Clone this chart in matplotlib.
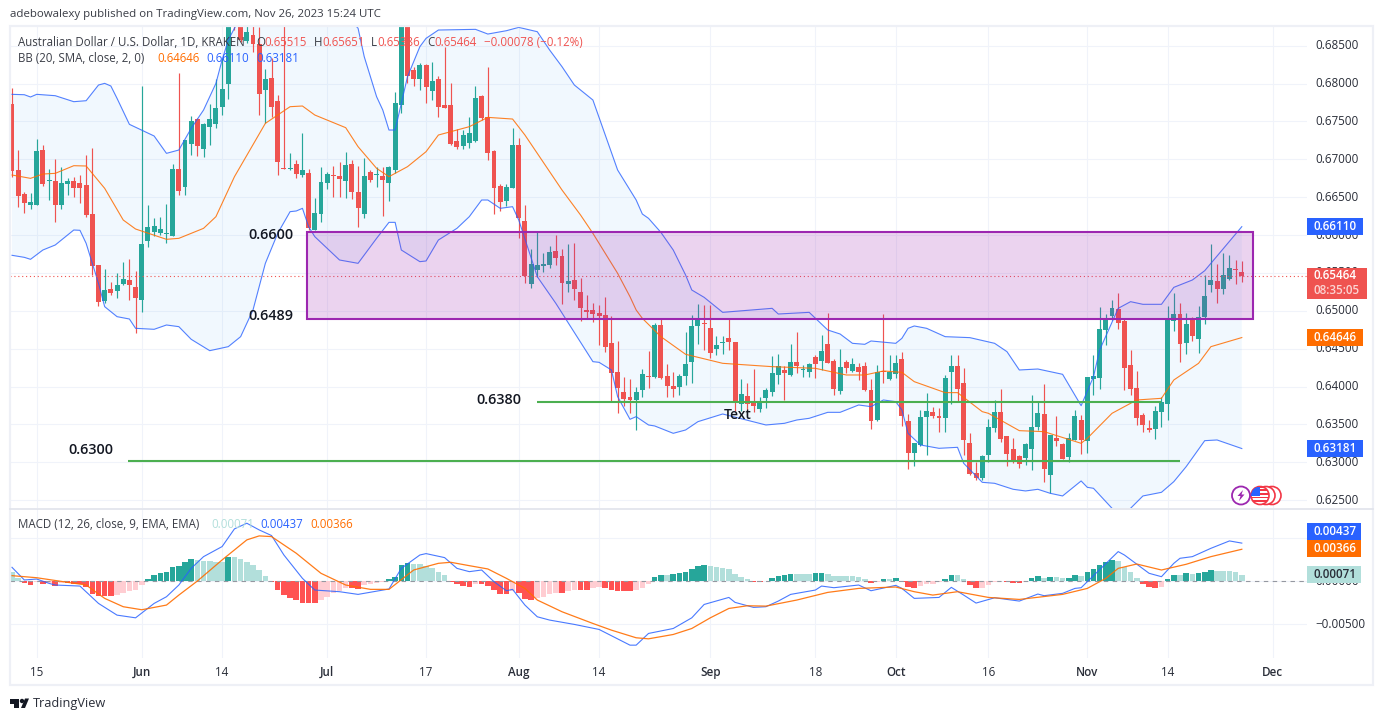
import numpy as np
import pandas as pd
import matplotlib
matplotlib.use("Agg")
import matplotlib.pyplot as plt
import matplotlib.dates as mdates
from matplotlib.patches import Rectangle, Circle, Polygon

plt.rcParams['font.family'] = ['Open Sans', 'DejaVu Sans']

start_date = "2023-05-11"
opens = [
0.67729,0.66858,0.66541,0.66392,0.66400,0.67122,0.66713,0.66708,0.66400,0.66673,
0.66708,0.66686,0.66660,0.66277,0.65604,0.65129,0.65287,0.65261,0.65353,0.65402,
0.65314,0.65142,0.65925,0.66040,0.66031,0.66013,0.65991,0.66871,0.66638,0.67206,
0.67527,0.67140,0.67430,0.67465,0.67690,0.67998,0.69150,0.68900,0.68565,0.68640,
0.68521,0.67918,0.68068,0.67769,0.66880,0.66871,0.66937,0.66788,0.66814,0.66066,
0.66277,0.66686,0.66792,0.66779,0.66713,0.66937,0.66568,0.66277,0.66832,0.66796,
0.66779,0.66686,0.66858,0.67716,0.68900,0.68182,0.68059,0.68244,0.67901,0.68059,
0.67712,0.67716,0.67241,0.67175,0.67214,0.67241,0.67835,0.67553,0.67109,0.66647,
0.66449,0.66620,0.67188,0.66185,0.65353,0.65538,0.65591,0.65604,0.65789,0.65723,
0.65353,0.65406,0.65243,0.65010,0.65010,0.64970,0.64944,0.64574,0.64192,0.63928,
0.63862,0.63822,0.63954,0.64139,0.64126,0.64812,0.64139,0.64007,0.63994,0.64139,
0.64324,0.64799,0.64838,0.64772,0.64495,0.64579,0.64640,0.64588,0.63769,0.63875,
0.63800,0.63703,0.63848,0.63928,0.64152,0.64218,0.64152,0.64324,0.64222,0.64192,
0.64390,0.64337,0.64561,0.64337,0.63941,0.64324,0.64205,0.64258,0.64271,0.63954,
0.63558,0.64205,0.64099,0.64165,0.64363,0.63545,0.63122,0.63228,0.63598,0.63664,
0.63611,0.63584,0.64192,0.64271,0.64046,0.63256,0.62858,0.62792,0.63096,0.63452,
0.63664,0.63347,0.63175,0.63083,0.63056,0.63175,0.63466,0.63637,0.62832,0.63320,
0.63241,0.63070,0.63294,0.63558,0.63281,0.64099,0.64112,0.64746,0.64931,0.65023,
0.64865,0.64284,0.63980,0.63624,0.63452,0.63439,0.63664,0.63769,0.64865,0.64957,
0.64574,0.64878,0.64627,0.64918,0.65340,0.65393,0.65287,0.65419,0.65551,0.65515]
highs = [
0.67936,0.67122,0.66572,0.66559,0.67263,0.67188,0.66871,0.67003,0.66893,0.66757,
0.66770,0.66792,0.67056,0.67144,0.65604,0.65547,0.65384,0.65494,0.65639,0.65679,
0.65525,0.67967,0.66396,0.66220,0.66242,0.66409,0.66937,0.68134,0.67254,0.67571,
0.67540,0.67483,0.67725,0.68055,0.68332,0.69050,0.69250,0.69000,0.68850,0.68800,
0.68750,0.68191,0.68332,0.67848,0.68800,0.67078,0.66990,0.67342,0.66871,0.66484,
0.66898,0.66832,0.66915,0.66959,0.67096,0.66990,0.66911,0.67012,0.66858,0.66902,
0.66898,0.66915,0.67883,0.69500,0.69000,0.68222,0.68266,0.68253,0.68279,0.68100,
0.68477,0.68002,0.67399,0.67386,0.67553,0.67967,0.67852,0.68218,0.67122,0.66673,
0.66673,0.67408,0.67280,0.66396,0.65815,0.66040,0.65758,0.65855,0.66000,0.65811,
0.65881,0.65890,0.65428,0.65208,0.65098,0.65076,0.65177,0.64931,0.64601,0.64130,
0.64099,0.63998,0.64231,0.64469,0.64843,0.64887,0.64297,0.64196,0.64165,0.64720,
0.64944,0.65089,0.65076,0.65076,0.64667,0.64667,0.64891,0.64588,0.64099,0.64051,
0.64231,0.63862,0.63980,0.64403,0.64429,0.64271,0.64561,0.64720,0.64284,0.64306,
0.64416,0.64680,0.64970,0.64363,0.64491,0.64350,0.64376,0.64306,0.64319,0.64099,
0.64284,0.64957,0.64416,0.64416,0.64456,0.63637,0.63250,0.63690,0.63914,0.63730,
0.63716,0.64152,0.64416,0.64416,0.64244,0.63386,0.62999,0.63096,0.63571,0.63822,
0.63967,0.63350,0.63320,0.63096,0.63256,0.63888,0.63800,0.64033,0.63360,0.63611,
0.63250,0.63382,0.63690,0.63624,0.64126,0.64416,0.65050,0.64957,0.65142,0.65234,
0.64891,0.64482,0.64205,0.63646,0.63558,0.63743,0.63862,0.65063,0.65234,0.65102,
0.64966,0.64913,0.65063,0.65472,0.65881,0.65617,0.65762,0.65736,0.65670,0.65651]
lows = [
0.66770,0.66374,0.66295,0.66348,0.66392,0.66647,0.66462,0.66176,0.66348,0.66528,
0.66506,0.66427,0.66242,0.65468,0.65067,0.65102,0.65208,0.65164,0.65340,0.65142,
0.64711,0.64988,0.65846,0.65987,0.66000,0.65899,0.65987,0.66528,0.66528,0.67056,
0.67047,0.67034,0.67188,0.67408,0.67584,0.67800,0.68706,0.68552,0.68539,0.68420,
0.67584,0.67483,0.67562,0.66792,0.66870,0.66858,0.66748,0.66770,0.66066,0.66060,
0.66176,0.66607,0.66506,0.66502,0.66488,0.66475,0.66110,0.66224,0.66704,0.66638,
0.66251,0.66449,0.66814,0.67615,0.68002,0.67967,0.67914,0.67742,0.67782,0.67558,
0.67676,0.67184,0.67135,0.67135,0.67148,0.67232,0.67518,0.66990,0.66277,0.66321,
0.66383,0.66616,0.65956,0.65362,0.65296,0.65441,0.65516,0.65560,0.65604,0.65089,
0.65252,0.65142,0.64869,0.64900,0.64856,0.64548,0.64460,0.63800,0.63655,0.63743,
0.63646,0.63426,0.63866,0.63976,0.64108,0.64099,0.63866,0.63866,0.63888,0.64020,
0.64051,0.64561,0.64482,0.64376,0.64416,0.64429,0.64482,0.63681,0.63677,0.63681,
0.63668,0.63668,0.63712,0.63879,0.64033,0.63822,0.64139,0.64174,0.64130,0.64126,
0.64117,0.64218,0.64306,0.63888,0.63901,0.64174,0.64196,0.64086,0.63941,0.63439,
0.63550,0.64046,0.64090,0.64108,0.63479,0.62911,0.62955,0.63220,0.63096,0.63584,
0.63400,0.63400,0.63769,0.63809,0.63096,0.62832,0.62766,0.62766,0.63008,0.63400,
0.63272,0.62955,0.62986,0.62920,0.62964,0.62898,0.63426,0.62740,0.62590,0.63215,
0.63043,0.63008,0.63290,0.63109,0.63122,0.63888,0.63967,0.64548,0.64878,0.64759,
0.63954,0.63888,0.63492,0.63400,0.63400,0.63307,0.63466,0.63558,0.64733,0.64324,
0.64429,0.64601,0.64442,0.64825,0.65248,0.65102,0.65221,0.65406,0.65353,0.65386]
closes = [
0.66845,0.66515,0.66427,0.66436,0.67109,0.66673,0.66726,0.66400,0.66686,0.66713,
0.66625,0.66625,0.66268,0.65595,0.65120,0.65274,0.65230,0.65340,0.65419,0.65340,
0.65173,0.65877,0.66101,0.66114,0.66079,0.66022,0.66871,0.66581,0.67254,0.67505,
0.67179,0.67465,0.67531,0.67676,0.67927,0.68900,0.68780,0.68574,0.68675,0.68521,
0.67861,0.68055,0.67685,0.66964,0.66876,0.66880,0.66805,0.66854,0.66088,0.66286,
0.66695,0.66805,0.66783,0.66735,0.66924,0.66568,0.66361,0.66779,0.66722,0.66805,
0.66726,0.66902,0.67738,0.68850,0.68099,0.68059,0.68244,0.67954,0.68033,0.67690,
0.67676,0.67201,0.67162,0.67320,0.67346,0.67808,0.67544,0.67082,0.66620,0.66436,
0.66634,0.67188,0.66224,0.65459,0.65617,0.65604,0.65613,0.65776,0.65696,0.65371,
0.65393,0.65287,0.65036,0.64988,0.64957,0.64931,0.64522,0.64178,0.63980,0.63835,
0.63822,0.63928,0.64165,0.64130,0.64812,0.64112,0.64007,0.63967,0.64139,0.64297,
0.64799,0.64878,0.64825,0.64442,0.64548,0.64588,0.64588,0.63782,0.63901,0.63769,
0.63743,0.63809,0.63954,0.64178,0.64271,0.64178,0.64324,0.64271,0.64231,0.64297,
0.64297,0.64469,0.64310,0.63967,0.64258,0.64244,0.64297,0.64192,0.63954,0.63545,
0.64192,0.64192,0.64192,0.64310,0.63611,0.63122,0.63256,0.63598,0.63677,0.63611,
0.63589,0.64112,0.64271,0.63967,0.63294,0.62845,0.62792,0.63083,0.63466,0.63664,
0.63307,0.63109,0.63030,0.62977,0.63241,0.63466,0.63650,0.62911,0.63360,0.63281,
0.63043,0.63320,0.63611,0.63294,0.64126,0.64139,0.64759,0.64891,0.65036,0.64838,
0.64244,0.63967,0.63584,0.63492,0.63426,0.63677,0.63800,0.64878,0.64957,0.64561,
0.64825,0.64667,0.64918,0.65195,0.65406,0.65287,0.65472,0.65564,0.65542,0.65464]

upper_days = [0,2,3,4,7,10,12,14,15,16,17,19,23,25,27,29,31,33,34,35,36,40,45,50,54,56,57,59,60,61,62,63,64,66,67,69,75,77,80,82,85,87,89,91,94,96,98,101,102,103,105,107,109,110,112,115,123,124,129,132,134,136,138,139,143,144,145,146,148,151,155,159,161,163,166,170,173,175,176,179,181,183,186,188,191,193,199]
upper_band = [0.67857,0.67852,0.67822,0.67857,0.67839,0.6776,0.67773,0.6798,0.68002,0.67967,0.67804,0.67461,0.67307,0.67078,0.67122,0.67408,0.6765,0.68002,0.6831,0.68574,0.6873,0.6925,0.695,0.693,0.689,0.6873,0.68354,0.67826,0.6765,0.67386,0.67386,0.67738,0.6809,0.68486,0.68596,0.68706,0.68715,0.68653,0.68697,0.68741,0.68684,0.68442,0.68222,0.6798,0.67782,0.6732,0.66858,0.66462,0.66277,0.6622,0.66035,0.65802,0.65472,0.65274,0.65177,0.64979,0.65032,0.64957,0.64979,0.64746,0.64693,0.6457,0.64557,0.64601,0.6457,0.64636,0.64768,0.64799,0.64768,0.64658,0.64645,0.6457,0.6446,0.64218,0.64231,0.64161,0.63747,0.6413,0.64482,0.65032,0.6512,0.65085,0.65085,0.65309,0.65406,0.65529,0.6611]
lower_days = [0,2,3,5,7,10,11,12,14,15,17,19,20,23,25,27,29,32,35,37,39,41,43,45,46,47,48,49,53,56,57,59,61,62,63,66,67,69,72,74,76,77,79,81,82,85,88,94,95,97,98,100,101,103,104,107,109,111,115,122,125,127,129,132,134,137,139,141,143,144,145,147,150,153,154,157,159,162,164,166,168,170,173,174,175,178,179,180,181,183,186,188,190,193,195,199]
lower_band = [0.65732,0.65705,0.65679,0.65802,0.65868,0.66066,0.66062,0.6589,0.65362,0.65054,0.64922,0.64891,0.64768,0.64755,0.64812,0.6479,0.64623,0.64473,0.64526,0.64658,0.6501,0.65626,0.66022,0.66308,0.66317,0.66352,0.6611,0.65978,0.6567,0.65626,0.65736,0.65956,0.66167,0.66167,0.65802,0.65648,0.65657,0.65934,0.66088,0.66242,0.66462,0.66462,0.66352,0.66374,0.66198,0.6545,0.65098,0.64328,0.64319,0.64218,0.63866,0.63567,0.63602,0.63492,0.63479,0.63382,0.63426,0.63536,0.63637,0.63492,0.63514,0.63558,0.6358,0.63659,0.63659,0.63756,0.63734,0.63822,0.638,0.6369,0.63382,0.63228,0.63184,0.63197,0.62986,0.62735,0.62722,0.62643,0.62621,0.62643,0.6259,0.62555,0.62753,0.62669,0.62656,0.62392,0.6225,0.6225,0.62392,0.62555,0.62603,0.62744,0.62942,0.63285,0.63294,0.63181]
basis_days = [0,3,5,7,10,12,15,18,20,25,27,31,33,36,41,45,47,49,54,56,59,61,64,67,69,74,77,81,83,89,92,94,98,100,101,102,105,109,115,123,130,135,138,141,144,146,151,153,157,158,163,167,173,174,178,182,186,188,192,194,199]
basis_band = [0.66792,0.66748,0.66805,0.66814,0.66915,0.66911,0.66616,0.66198,0.66079,0.65943,0.65956,0.66088,0.66242,0.6677,0.67474,0.67694,0.67703,0.67584,0.67417,0.67166,0.6688,0.6677,0.66902,0.671,0.6732,0.6743,0.67553,0.67531,0.6732,0.66594,0.66264,0.66022,0.65494,0.65186,0.6501,0.649,0.64658,0.64425,0.64306,0.64262,0.6424,0.64152,0.64152,0.64205,0.64187,0.64064,0.63919,0.63919,0.63668,0.63646,0.63417,0.63404,0.6325,0.63316,0.63646,0.63822,0.63844,0.64086,0.64306,0.64526,0.64646]

macd_days = [0,2,4,6,7,11,14,17,20,23,25,27,29,31,34,36,38,40,42,44,47,49,53,56,61,63,66,67,70,72,74,76,78,80,81,83,85,87,91,95,100,101,103,107,110,112,116,117,120,122,124,126,130,131,133,137,139,143,144,146,150,152,154,156,159,163,166,167,170,172,173,179,180,184,186,188,189,191,194,197,199]
macd_line = [0.00158,0.00012,0.00023,-0.00027,-0.00046,-0.00058,-0.00258,-0.00393,-0.00424,-0.00258,-0.00181,-0.00046,0.00146,0.00281,0.00397,0.00601,0.00666,0.00589,0.00524,0.003,0.00031,-0.00104,-0.00123,-0.00154,-0.00092,0.00146,0.003,0.00316,0.0027,0.00146,0.00108,0.00127,-0.00008,-0.00112,-0.00096,-0.00277,-0.00412,-0.0045,-0.005,-0.00558,-0.00739,-0.00739,-0.00604,-0.00547,-0.00424,-0.0027,-0.00189,-0.00246,-0.00304,-0.00296,-0.00231,-0.00154,-0.00104,-0.00058,-0.00077,-0.00046,-0.00112,-0.0005,-0.00085,-0.002,-0.00189,-0.00073,-0.00162,-0.00254,-0.00193,-0.00231,-0.0015,-0.00169,-0.00142,-0.00085,-0.00077,0.00339,0.003,0.00089,0.0005,0.00204,0.00262,0.00281,0.00377,0.00462,0.00437]
signal_days = [0,4,9,12,15,18,21,25,27,30,34,38,40,42,46,50,54,58,61,65,69,71,74,77,80,83,85,89,94,97,101,103,107,110,113,116,119,122,127,132,137,143,146,149,153,158,163,170,174,177,179,182,186,190,194,199]
signal_line = [0.00062,0.00038,-0.00015,-0.00046,-0.002,-0.00296,-0.00331,-0.00277,-0.00162,0.0,0.00243,0.00474,0.0052,0.00512,0.0032,0.00089,-0.00046,-0.00096,-0.00096,0.00127,0.00204,0.00216,0.00177,0.00139,0.00031,-0.00085,-0.00219,-0.00354,-0.00489,-0.00566,-0.00654,-0.00666,-0.00616,-0.00547,-0.00424,-0.00316,-0.00285,-0.00289,-0.00219,-0.00131,-0.00085,-0.00069,-0.00123,-0.00162,-0.00123,-0.00189,-0.00212,-0.00154,-0.00085,0.00031,0.00146,0.00196,0.00127,0.00193,0.00281,0.00366]
histogram = [
0.00100,0.00038,-0.00019,-0.00046,-0.00015,-0.00035,-0.00027,-0.00058,-0.00027,-0.00027,
-0.00031,-0.00038,-0.00065,-0.00154,-0.00169,-0.00173,-0.00173,-0.00162,-0.00135,-0.00115,
-0.00104,-0.00046,0.00023,0.00069,0.00096,0.00108,0.00162,0.00173,0.00223,0.00254,
0.00243,0.00235,0.00231,0.00223,0.00223,0.00281,0.00281,0.00254,0.00223,0.00185,
0.00127,0.00058,-0.00015,-0.00104,-0.00162,-0.00200,-0.00219,-0.00254,-0.00254,-0.00254,
-0.00219,-0.00181,-0.00142,-0.00115,-0.00077,-0.00077,-0.00092,-0.00046,-0.00038,-0.00019,
-0.00012,0.00023,0.00050,0.00185,0.00212,0.00200,0.00200,0.00173,0.00146,0.00100,
0.00069,-0.00008,-0.00038,-0.00054,-0.00069,-0.00031,-0.00038,-0.00054,-0.00104,-0.00150,
-0.00150,-0.00112,-0.00142,-0.00208,-0.00219,-0.00200,-0.00181,-0.00154,-0.00139,-0.00139,
-0.00115,-0.00104,-0.00104,-0.00104,-0.00085,-0.00069,-0.00085,-0.00104,-0.00115,-0.00115,
-0.00115,-0.00100,-0.00077,-0.00031,0.00050,0.00065,0.00065,0.00077,0.00089,0.00108,
0.00135,0.00173,0.00185,0.00173,0.00166,0.00154,0.00139,0.00081,0.00046,0.00023,
-0.00015,-0.00015,-0.00004,0.00038,0.00062,0.00069,0.00081,0.00081,0.00081,0.00081,
0.00089,0.00092,0.00077,0.00058,0.00058,0.00058,0.00058,0.00042,0.00023,-0.00023,
-0.00015,0.00023,0.00023,0.00035,-0.00015,-0.00065,-0.00085,-0.00054,-0.00038,-0.00031,
-0.00015,0.00023,0.00069,0.00069,0.00023,-0.00046,-0.00085,-0.00077,-0.00046,-0.00015,
-0.00004,-0.00015,-0.00023,-0.00023,-0.00008,0.00038,0.00058,0.00035,0.00046,0.00046,
0.00035,0.00038,0.00069,0.00058,0.00104,0.00139,0.00185,0.00223,0.00243,0.00231,
0.00166,0.00108,0.00035,-0.00031,-0.00069,-0.00077,-0.00069,0.00023,0.00069,0.00069,
0.00092,0.00081,0.00096,0.00108,0.00127,0.00116,0.00116,0.00116,0.00100,0.00071]

zone_top, zone_bottom = 0.6604, 0.6489
zone_days = (47.8, 200.8)
support_1 = (0.63789, 85.0, 186.0)
support_2 = (0.6301, 18.8, 189.0)
price_ticks = [0.625,0.63,0.635,0.64,0.645,0.65,0.655,0.66,0.665,0.67,0.675,0.68,0.685]
macd_ticks = [-0.005,0.0]
date_ticks = ["2023-05-15","2023-06-01","2023-06-14","2023-07-01","2023-07-17","2023-08-01","2023-08-14","2023-09-01","2023-09-18","2023-10-01","2023-10-16","2023-11-01","2023-11-14","2023-12-01"]
date_labels = ["15","Jun","14","Jul","17","Aug","14","Sep","18","Oct","16","Nov","14","Dec"]

GREEN, RED = '#26a69a', '#ef5350'
BLUE, ORANGE = '#2962ff', '#ff6d00'
GRID = '#f0f3fa'
W, H = 1383, 721

def fx(px): return px / W
def fy(px): return 1 - px / H

fig = plt.figure(figsize=(W/100, H/100), dpi=100, facecolor='white')
ax = fig.add_axes([fx(10), fy(508), fx(1297), 481/H])
mx = fig.add_axes([fx(10), fy(658), fx(1297), 149/H])

dates = pd.date_range(start_date, periods=len(opens))
base = mdates.date2num(dates[0])
days = np.arange(len(opens))
X = base + days
O, Hi, Lo, C = map(np.array, (opens, highs, lows, closes))
up = C >= O
colors = np.where(up, GREEN, RED)
tick_x = mdates.date2num(pd.to_datetime(date_ticks))

for a in (ax, mx):
    a.set_xlim(base - 0.32, base + 209.55)
    for s in a.spines.values():
        s.set_visible(False)
    a.set_xticks(tick_x)
    a.grid(True, color=GRID, lw=0.8)
    a.set_axisbelow(True)
    a.yaxis.tick_right()
    a.tick_params(length=0, pad=5.8, labelsize=8.4, labelcolor='#2a2e39')

ax.set_ylim(0.62396, 0.68746)
ax.set_yticks(price_ticks)
ax.set_yticklabels([f"{v:.5f}" for v in price_ticks])
ax.tick_params(axis='x', labelbottom=False)

ux, lx = base + np.array(upper_days), base + np.array(lower_days)
ax.fill(np.r_[ux, lx[::-1]], np.r_[upper_band, lower_band[::-1]], color='#2196f3', alpha=0.06, lw=0, zorder=1)
ax.vlines(X, Lo, Hi, colors=colors, lw=0.85, zorder=2)
ax.bar(X, np.maximum(np.abs(C - O), 0.00006), bottom=np.minimum(O, C), width=0.8, color=colors, lw=0, zorder=3)
ax.plot(ux, upper_band, color=BLUE, lw=0.8, alpha=0.8, zorder=4)
ax.plot(lx, lower_band, color=BLUE, lw=0.8, alpha=0.8, zorder=4)
ax.plot(base + np.array(basis_days), basis_band, color=ORANGE, lw=0.8, alpha=0.85, zorder=4)
ax.axhline(C[-1], color=RED, lw=0.8, ls=(0, (1, 2.5)), zorder=4)

ax.add_patch(Rectangle((base + zone_days[0], zone_bottom), zone_days[1] - zone_days[0], zone_top - zone_bottom,
                       facecolor=(0.612, 0.153, 0.690, 0.2), edgecolor='#9c27b0', lw=1.5, zorder=5))
for price, d0, d1 in (support_1, support_2):
    ax.plot([base + d0, base + d1], [price, price], color='#4caf50', lw=1.5, solid_capstyle='butt', zorder=5)

for d, p, s in ((38.2, 0.66000, "0.6600"), (38.2, 0.64930, "0.6489"), (75.2, 0.63820, "0.6380"), (9.2, 0.63160, "0.6300")):
    ax.text(base + d, p, s, fontsize=10.4, weight='semibold', color='#131722', va='center', ha='left', zorder=6)
ax.text(base + 115.2, 0.63624, "Text", fontsize=10, weight='semibold', color='#131722', va='center', ha='left', zorder=6)

mx.set_ylim(-0.00887, 0.0083)
mx.set_yticks(macd_ticks)
mx.set_yticklabels(["\u22120.00500", "0.00000"])
mx.axhline(0.005, color=GRID, lw=0.8, zorder=0)
mx.set_xticklabels(date_labels)
for lab, s in zip(mx.get_xticklabels(), date_labels):
    lab.set_fontweight('semibold' if s.isalpha() else 'normal')
for a in (ax, mx):
    for lab in a.get_yticklabels():
        lab.set_va('center')
hist = np.array(histogram)
hcol = []
for i, v in enumerate(hist):
    prev = hist[i-1] if i else v
    if v >= 0:
        hcol.append('#26a69a' if v > prev else '#b2dfdb')
    else:
        hcol.append('#ffcdd2' if v > prev else '#ff5252')
mx.bar(X, hist, width=0.9, color=hcol, lw=0, zorder=2)
mx.axhline(0, color='#9598a1', lw=0.8, ls=(0, (4, 4)), zorder=3)
mx.plot(base + np.array(macd_days), macd_line, color=BLUE, lw=0.8, alpha=0.85, zorder=4)
mx.plot(base + np.array(signal_days), signal_line, color=ORANGE, lw=0.9, alpha=0.9, zorder=4)

fig.add_artist(Rectangle((fx(9.5), fy(685)), fx(1363.5), 659/H, transform=fig.transFigure, fill=False, edgecolor='#eef0f6', lw=1.6, zorder=1))
fig.add_artist(plt.Line2D([fx(10), fx(1373)], [fy(508.5), fy(508.5)], color='#e0e3eb', lw=1.2, zorder=1))

def T(x, y, s, c='#3a3d46', size=8.3, **kw):
    fig.text(fx(x), fy(y), s, color=c, fontsize=size, va='center', ha=kw.pop('ha', 'left'), zorder=8, **kw)

T(10, 15, "adebowalexy published on TradingView.com, Nov 26, 2023 15:24 UTC", size=8.25)
T(18, 42, "Australian Dollar / U.S. Dollar, 1D, KRAKEN")
for x, s, c in ((256, "O", '#3a3d46'), (264, "0.65515", RED), (314, "H", '#3a3d46'), (322, "0.65651", RED),
                (371, "L", '#3a3d46'), (377, "0.65386", RED), (427, "C", '#3a3d46'), (434, "0.65464", RED),
                (484, "\u22120.00078 (\u22120.12%)", RED)):
    T(x, 42, s, c)
T(18, 58.5, "BB (20, SMA, close, 2, 0)")
for x, s, c in ((157, "0.64646", ORANGE), (206, "0.66110", BLUE), (256, "0.63181", BLUE)):
    T(x, 58.5, s, c)
T(18, 524, "MACD (12, 26, close, 9, EMA, EMA)")
for x, s, c in ((211, "0.00071", '#b2dfdb'), (260, "0.00437", BLUE), (310, "0.00366", ORANGE)):
    T(x, 524, s, c)
T(33, 703, "TradingView", c='#2a2e39', size=9.2)

def px_of(a, v):
    return H - a.transData.transform((base, v))[1]

def tag_at(yc, bg, s, fg='white', x1=1363):
    fig.add_artist(Rectangle((fx(1307), fy(yc + 8.5)), fx(x1 - 1307), 17/H, transform=fig.transFigure, facecolor=bg, edgecolor='none', zorder=6))
    T(1314, yc, s, c=fg, size=8.4, weight='semibold')

def tag(a, v, bg, s, fg='white', x1=1363):
    tag_at(px_of(a, v), bg, s, fg, x1)

tag(ax, 0.66110, BLUE, "0.66110")
tag(ax, 0.64646, ORANGE, "0.64646")
tag(ax, 0.63181, BLUE, "0.63181")
yc = px_of(ax, C[-1])
fig.add_artist(Rectangle((fx(1307), fy(yc + 23)), fx(60), 31/H, transform=fig.transFigure, facecolor=RED, edgecolor='none', zorder=6))
T(1314, yc, "0.65464", c='white', size=8.4, weight='semibold')
T(1314, yc + 14.5, "08:35:05", c='#fbd5d4', size=8.4, weight='semibold')
# the two MACD tags are stacked by the price scale so that they do not collide
tag_at(531.5, BLUE, "0.00437", x1=1361)
tag_at(548.5, ORANGE, "0.00366", x1=1361)
tag(mx, 0.00071, '#b2dfdb', "0.00071", fg='#2a2e39', x1=1361)

# TradingView logo
for patch in (Rectangle((fx(10), fy(703.5)), fx(9), 4.5/H), Rectangle((fx(14), fy(708)), fx(5), 5/H)):
    patch.set(transform=fig.transFigure, facecolor='#131722', edgecolor='none', zorder=8)
    fig.add_artist(patch)
fig.add_artist(Polygon([(fx(21), fy(708)), (fx(25), fy(708)), (fx(29), fy(698.5)), (fx(25), fy(698.5))], closed=True,
                       transform=fig.transFigure, facecolor='#131722', edgecolor='none', zorder=8))
fig.add_artist(Circle((22, H - 701), 2.2, transform=None, facecolor='#131722', edgecolor='none', zorder=8))

# event icons
for cx in (1272, 1266):
    fig.add_artist(Circle((cx, H - 495.5), 9, transform=None, facecolor='white', edgecolor='#f23645', lw=1.2, zorder=8))
flag = Circle((1260, H - 495.5), 9, transform=None, facecolor='white', edgecolor='#f23645', lw=1.2, zorder=8)
fig.add_artist(flag)
for k in range(5):
    s = Rectangle((1251, H - 490.5 - 3.6 * k + 3), 18, 1.8, transform=None, facecolor='#f23645', edgecolor='none', zorder=9)
    fig.add_artist(s)
    s.set_clip_path(flag)
canton = Rectangle((1251, H - 495.5), 9, 9, transform=None, facecolor='#2962ff', edgecolor='none', zorder=10)
fig.add_artist(canton)
canton.set_clip_path(flag)
fig.add_artist(Circle((1241, H - 495.5), 9, transform=None, facecolor='white', edgecolor='#9c27b0', lw=1.3, zorder=8))
fig.add_artist(Polygon([(1243, H-490), (1237.5, H-496), (1240.5, H-496), (1239, H-501), (1244.5, H-494.5), (1241.5, H-494.5)],
                       closed=True, transform=None, facecolor='#9c27b0', edgecolor='none', zorder=9))

fig.savefig("out.png", dpi=100, facecolor='white')
